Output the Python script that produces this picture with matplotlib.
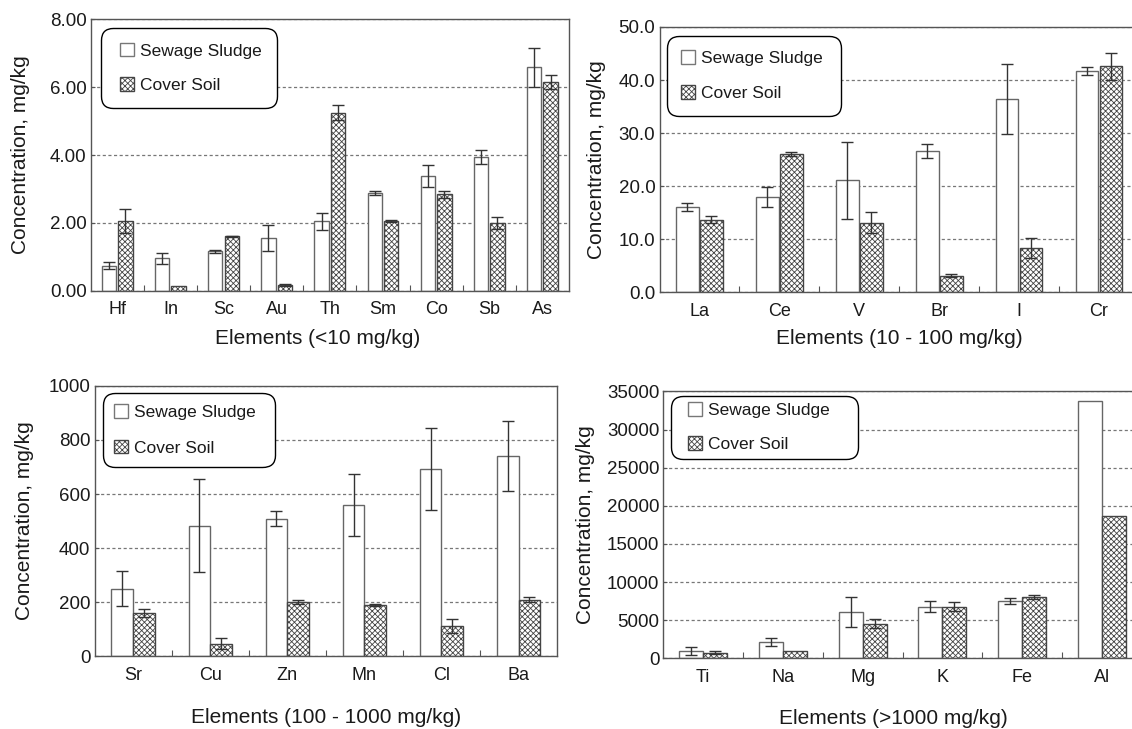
import numpy as np
import matplotlib
matplotlib.use("Agg")
import matplotlib.pyplot as plt
from matplotlib.patches import Rectangle
from matplotlib.legend_handler import HandlerPatch
from matplotlib.ticker import FormatStrFormatter, MultipleLocator

plt.rcParams['font.family'] = ['Liberation Sans', 'DejaVu Sans']
plt.rcParams['hatch.linewidth'] = 0.6

# Elements < 10 mg/kg
el1 = ["Hf", "In", "Sc", "Au", "Th", "Sm", "Co", "Sb", "As"]
ss1 = [0.74, 0.96, 1.16, 1.56, 2.05, 2.88, 3.38, 3.95, 6.58]
ss1_err = [0.11, 0.16, 0.04, 0.39, 0.25, 0.07, 0.33, 0.21, 0.57]
cs1 = [2.05, 0.15, 1.60, 0.17, 5.24, 2.05, 2.84, 2.00, 6.15]
cs1_err = [0.36, 0.0, 0.02, 0.03, 0.22, 0.02, 0.11, 0.18, 0.20]

# Elements 10 - 100 mg/kg
el2 = ["La", "Ce", "V", "Br", "I", "Cr"]
ss2 = [16.1, 18.0, 21.1, 26.7, 36.4, 41.7]
ss2_err = [0.7, 1.9, 7.2, 1.3, 6.6, 0.8]
cs2 = [13.7, 26.0, 13.1, 3.1, 8.3, 42.6]
cs2_err = [0.7, 0.35, 2.0, 0.3, 1.9, 2.5]

# Elements 100 - 1000 mg/kg
el3 = ["Sr", "Cu", "Zn", "Mn", "Cl", "Ba"]
ss3 = [250, 483, 509, 560, 693, 741]
ss3_err = [65, 171, 28, 114, 152, 129]
cs3 = [162, 47, 202, 191, 113, 210]
cs3_err = [15, 20, 7, 4, 27, 9]

# Elements > 1000 mg/kg
el4 = ["Ti", "Na", "Mg", "K", "Fe", "Al"]
ss4 = [960, 2150, 6130, 6790, 7540, 33800]
ss4_err = [480, 530, 1970, 660, 370, 0]
cs4 = [750, 960, 4560, 6790, 8020, 18600]
cs4_err = [240, 0, 530, 530, 220, 0]

TXT = '#1a1a1a'
SPINE = '#555555'


def square_handle(legend, orig_handle, xdescent, ydescent, width, height, fontsize):
    s = 10.0
    return Rectangle((-xdescent + width - s, -ydescent + (height - s) / 2), s, s)


def panel(ax, names, ss, ss_err, cs, cs_err, ymax, step, fmt, xlabel,
          bw, shift, leg, ylab_x, xlab):
    n = len(names)
    x = np.arange(n) + 0.5
    ax.bar(x - shift, ss, bw, facecolor='white', edgecolor='#666666', lw=1, zorder=2)
    ax.bar(x + shift, cs, bw, facecolor='white', edgecolor='#444444',
           hatch='xxxxxx', lw=1, zorder=2)
    for xs, v, e in ((x - shift, ss, ss_err), (x + shift, cs, cs_err)):
        e = np.asarray(e, float)
        m = e > 0
        ax.errorbar(xs[m], np.asarray(v, float)[m], yerr=e[m], fmt='none',
                    ecolor='#333333', elinewidth=1, capsize=4.3, capthick=1, zorder=3)

    ax.set_xlim(0, n)
    ax.set_ylim(0, ymax)
    ax.yaxis.set_major_locator(MultipleLocator(step))
    ax.yaxis.set_major_formatter(FormatStrFormatter(fmt))
    ax.set_axisbelow(True)
    ax.yaxis.grid(True, linestyle=(0, (2.5, 2)), color='#777777', lw=0.9)

    ax.set_xticks(np.arange(1, n))
    ax.set_xticklabels([])
    ax.set_xticks(x, minor=True)
    ax.set_xticklabels(names, minor=True)
    ax.tick_params(axis='x', which='major', direction='in', length=4, color=SPINE)
    ax.tick_params(axis='x', which='minor', length=0, pad=7.5, labelsize=13, labelcolor=TXT)
    ax.tick_params(axis='y', direction='in', length=3, color=SPINE, pad=3,
                   labelsize=13.5, labelcolor=TXT)
    for sp in ax.spines.values():
        sp.set_color(SPINE)
        sp.set_linewidth(1)

    ax.set_ylabel("Concentration, mg/kg", fontsize=15, color=TXT)
    ax.yaxis.set_label_coords(ylab_x, 0.5)
    ax.set_xlabel(xlabel, fontsize=15, color=TXT)
    ax.xaxis.set_label_coords(*xlab)

    h_ss = Rectangle((0, 0), 1, 1, facecolor='white', edgecolor='#777777', lw=1)
    h_cs = Rectangle((0, 0), 1, 1, facecolor='white', edgecolor='#444444', lw=1,
                     hatch='xxxxxx')
    x0, ytop, w, bp, ls, hl = leg
    lg = ax.legend([h_ss, h_cs], ["Sewage Sludge", "Cover Soil"], loc='upper left',
                   bbox_to_anchor=(x0, ytop - 0.4, w, 0.4), mode='expand', borderaxespad=0,
                   fontsize=12.5, borderpad=bp, labelspacing=ls, handlelength=hl,
                   handletextpad=0.35, fancybox=True, framealpha=1,
                   handler_map={Rectangle: HandlerPatch(patch_func=square_handle)})
    fr = lg.get_frame()
    fr.set_edgecolor('black')
    fr.set_linewidth(1)
    fr.set_boxstyle('round', pad=0, rounding_size=0.7)
    for t in lg.get_texts():
        t.set_color(TXT)


fig = plt.figure(figsize=(11.32, 7.29), dpi=100)
ax1 = fig.add_axes([0.0801, 0.6012, 0.4225, 0.3723])
ax2 = fig.add_axes([0.5826, 0.5990, 0.4235, 0.3640])
ax3 = fig.add_axes([0.0835, 0.0995, 0.4086, 0.3714])
ax4 = fig.add_axes([0.5861, 0.0970, 0.4224, 0.3660])

panel(ax1, el1, ss1, ss1_err, cs1, cs1_err, 8, 2, '%.2f', "Elements (<10 mg/kg)",
      0.27, 0.155, (0.0215, 0.967, 0.369, 0.87, 1.13, 1.03), -0.127, (0.475, -0.14))
panel(ax2, el2, ss2, ss2_err, cs2, cs2_err, 50, 10, '%.1f', "Elements (10 - 100 mg/kg)",
      0.285, 0.15, (0.0156, 0.966, 0.363, 0.86, 1.13, 0.75), -0.112, (0.5, -0.138))
panel(ax3, el3, ss3, ss3_err, cs3, cs3_err, 1000, 200, '%d', "Elements (100 - 1000 mg/kg)",
      0.28, 0.14, (0.0173, 0.974, 0.372, 0.68, 1.19, 0.79), -0.130, (0.5, -0.192))
panel(ax4, el4, ss4, ss4_err, cs4, cs4_err, 35000, 5000, '%d', "Elements (>1000 mg/kg)",
      0.30, 0.15, (0.0157, 0.984, 0.391, 0.41, 1.08, 1.38), -0.144, (0.48, -0.191))

fig.savefig("out.png", dpi=100)
